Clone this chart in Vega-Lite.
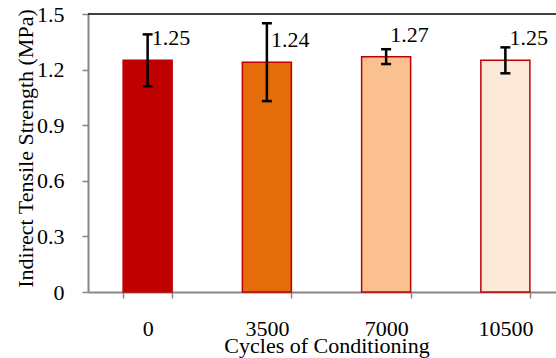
{
  "$schema": "https://vega.github.io/schema/vega-lite/v6.json",
  "autosize": {"type": "none"},
  "padding": {"left": 88, "top": 14, "right": -9, "bottom": 66},
  "width": 477,
  "height": 278,
  "background": "white",
  "config": {
    "view": {"stroke": null},
    "font": "Liberation Serif",
    "axis": {"labelFont": "Liberation Serif", "titleFont": "Liberation Serif", "labelColor": "black", "titleColor": "black", "titleFontWeight": "normal", "grid": false}
  },
  "data": {
    "values": [
      {"cycles": "0", "value": 1.25, "lo": 1.11, "hi": 1.39},
      {"cycles": "3500", "value": 1.24, "lo": 1.03, "hi": 1.45},
      {"cycles": "7000", "value": 1.27, "lo": 1.23, "hi": 1.31},
      {"cycles": "10500", "value": 1.25, "lo": 1.18, "hi": 1.32}
    ]
  },
  "layer": [
    {
      "mark": {"type": "bar", "stroke": "#C00000", "strokeWidth": 1.5},
      "encoding": {
        "x": {
          "field": "cycles", "type": "nominal", "sort": ["0", "3500", "7000", "10500"],
          "scale": {"paddingInner": 0.589, "paddingOuter": 0.2945},
          "axis": {
            "title": "Cycles of Conditioning", "labelAngle": 0, "labelFontSize": 22, "titleFontSize": 22,
            "tickBand": "extent", "domainColor": "#868686", "domainWidth": 2, "tickColor": "#868686", "tickWidth": 1.5, "tickSize": 6,
            "labelBaseline": "alphabetic", "labelPadding": 37, "titleY": 60, "titleBaseline": "alphabetic"
          }
        },
        "y": {
          "field": "value", "type": "quantitative",
          "scale": {"domain": [0, 1.5], "nice": false},
          "axis": {
            "title": "Indirect Tensile Strength (MPa)", "values": [0, 0.3, 0.6, 0.9, 1.2, 1.5], "format": ".1~f",
            "labelFontSize": 22, "titleFontSize": 22, "domainColor": "#868686", "domainWidth": 2,
            "tickColor": "#868686", "tickWidth": 1.5, "tickSize": 6, "labelPadding": 18,
            "titleX": -56, "titleY": 134, "titleBaseline": "alphabetic"
          }
        },
        "color": {
          "field": "cycles", "type": "nominal", "legend": null,
          "scale": {"domain": ["0", "3500", "7000", "10500"], "range": ["#C00000", "#E46C0A", "#FAC090", "#FDE9D9"]}
        }
      }
    },
    {
      "data": {"values": [{"top": 1.5}]},
      "mark": {"type": "rule", "color": "black", "strokeWidth": 1.5},
      "encoding": {"y": {"field": "top", "type": "quantitative", "scale": {"domain": [0, 1.5], "nice": false}}}
    },
    {
      "mark": {"type": "rule", "color": "black", "strokeWidth": 2.5},
      "encoding": {
        "x": {"field": "cycles", "type": "nominal", "sort": ["0", "3500", "7000", "10500"]},
        "y": {"field": "lo", "type": "quantitative", "scale": {"domain": [0, 1.5], "nice": false}}, "y2": {"field": "hi"}
      }
    },
    {
      "mark": {"type": "tick", "color": "black", "thickness": 2.5, "size": 10, "opacity": 1},
      "encoding": {
        "x": {"field": "cycles", "type": "nominal", "sort": ["0", "3500", "7000", "10500"]},
        "y": {"field": "lo", "type": "quantitative", "scale": {"domain": [0, 1.5], "nice": false}}
      }
    },
    {
      "mark": {"type": "tick", "color": "black", "thickness": 2.5, "size": 10, "opacity": 1},
      "encoding": {
        "x": {"field": "cycles", "type": "nominal", "sort": ["0", "3500", "7000", "10500"]},
        "y": {"field": "hi", "type": "quantitative", "scale": {"domain": [0, 1.5], "nice": false}}
      }
    },
    {
      "mark": {"type": "text", "align": "left", "baseline": "middle", "dx": 4, "dy": -22, "fontSize": 22, "color": "black"},
      "encoding": {
        "x": {"field": "cycles", "type": "nominal", "sort": ["0", "3500", "7000", "10500"]},
        "y": {"field": "value", "type": "quantitative", "scale": {"domain": [0, 1.5], "nice": false}},
        "text": {"field": "value", "type": "quantitative", "format": ".2f"}
      }
    }
  ]
}
